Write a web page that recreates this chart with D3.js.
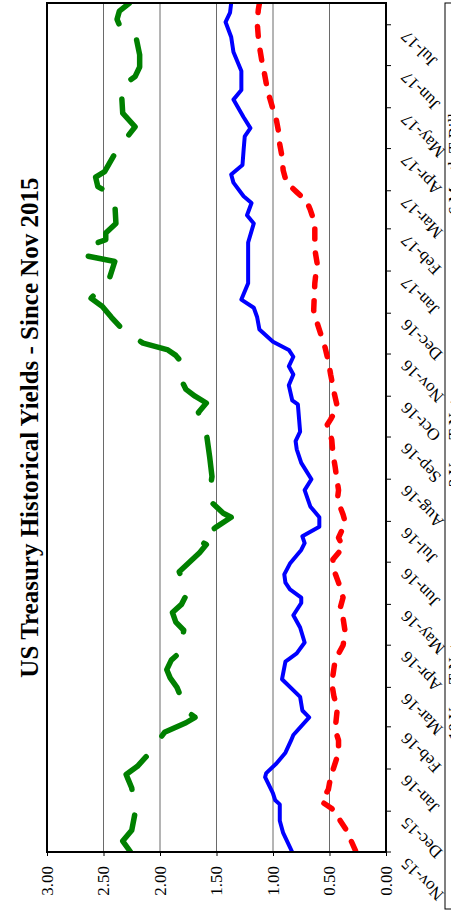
<!DOCTYPE html>
<html>
<head>
<meta charset="utf-8">
<script src="https://cdn.jsdelivr.net/npm/d3@7"></script>
<style>
  html, body { margin: 0; padding: 0; background: #fff; overflow: hidden; }
  svg { display: block; }
  text { font-family: "Liberation Serif", "Times New Roman", serif; fill: #000; }
</style>
</head>
<body>
<svg id="chart" width="451" height="911"></svg>
<script>
// Weekly-ish yield readings, percent
const tenYear = [
  ["2015-11-01",2.26],["2015-11-09",2.33],["2015-11-17",2.25],["2015-11-30",2.22],["2015-12-18",2.25],
  ["2015-12-24",2.28],["2015-12-28",2.30],["2016-01-03",2.20],["2016-01-13",2.09],["2016-01-28",1.96],
  ["2016-01-31",1.88],["2016-02-04",1.77],["2016-02-08",1.69],["2016-02-11",1.74],["2016-02-16",1.78],
  ["2016-03-01",1.85],["2016-03-08",1.91],["2016-03-14",1.94],["2016-03-21",1.90],["2016-03-27",1.82],
  ["2016-04-12",1.79],["2016-04-18",1.86],["2016-04-25",1.89],["2016-05-01",1.81],["2016-05-09",1.76],
  ["2016-05-25",1.83],["2016-06-01",1.74],["2016-06-08",1.65],["2016-06-14",1.59],["2016-06-17",1.66],
  ["2016-06-27",1.50],["2016-07-04",1.37],["2016-07-07",1.44],["2016-07-17",1.57],["2016-08-03",1.54],
  ["2016-08-17",1.56],["2016-09-04",1.59],["2016-09-19",1.66],["2016-09-26",1.59],["2016-10-01",1.69],
  ["2016-10-06",1.77],["2016-10-11",1.80],["2016-10-28",1.83],["2016-10-31",1.86],["2016-11-04",1.93],
  ["2016-11-09",2.15],["2016-11-19",2.33],["2016-11-28",2.43],["2016-12-06",2.51],["2016-12-12",2.61],
  ["2016-12-26",2.45],["2017-01-08",2.40],["2017-01-12",2.64],["2017-01-18",2.68],["2017-01-24",2.48],
  ["2017-01-29",2.48],["2017-02-05",2.39],["2017-02-20",2.40],["2017-02-28",2.46],["2017-03-04",2.55],
  ["2017-03-11",2.57],["2017-03-15",2.49],["2017-03-31",2.38],["2017-04-17",2.22],["2017-04-27",2.33],
  ["2017-05-11",2.34],["2017-05-16",2.25],["2017-05-21",2.27],["2017-05-24",2.22],["2017-05-31",2.18],
  ["2017-06-09",2.18],["2017-06-25",2.22],["2017-07-01",2.36],["2017-07-05",2.38],["2017-07-11",2.36],
  ["2017-07-17",2.27]
];

const twoYear = [
  ["2015-11-01",0.83],["2015-11-15",0.91],["2015-11-24",0.94],["2015-12-06",0.94],["2015-12-09",0.98],
  ["2015-12-14",1.00],["2015-12-26",1.07],["2015-12-29",1.06],["2016-01-05",0.97],["2016-01-13",0.89],
  ["2016-01-22",0.84],["2016-01-26",0.82],["2016-02-08",0.68],["2016-02-13",0.74],["2016-02-23",0.76],
  ["2016-03-07",0.92],["2016-03-20",0.89],["2016-03-26",0.79],["2016-04-03",0.72],["2016-04-14",0.76],
  ["2016-04-23",0.82],["2016-05-02",0.75],["2016-05-06",0.75],["2016-05-12",0.85],["2016-05-17",0.89],
  ["2016-05-23",0.90],["2016-05-31",0.85],["2016-06-10",0.75],["2016-06-15",0.72],["2016-06-20",0.74],
  ["2016-06-27",0.59],["2016-07-04",0.59],["2016-07-12",0.67],["2016-07-24",0.72],["2016-08-01",0.66],
  ["2016-08-13",0.75],["2016-08-23",0.79],["2016-08-29",0.80],["2016-09-05",0.76],["2016-09-25",0.78],
  ["2016-09-28",0.83],["2016-10-09",0.86],["2016-10-17",0.82],["2016-10-23",0.86],["2016-10-30",0.82],
  ["2016-11-04",0.86],["2016-11-10",1.00],["2016-11-19",1.12],["2016-11-28",1.14],["2016-12-05",1.17],
  ["2016-12-11",1.28],["2016-12-23",1.22],["2017-01-04",1.22],["2017-01-22",1.22],["2017-02-05",1.17],
  ["2017-02-11",1.23],["2017-02-20",1.19],["2017-02-25",1.26],["2017-03-07",1.35],["2017-03-13",1.37],
  ["2017-03-20",1.27],["2017-03-31",1.26],["2017-04-10",1.25],["2017-04-16",1.20],["2017-04-24",1.26],
  ["2017-05-07",1.35],["2017-05-14",1.28],["2017-05-28",1.28],["2017-06-11",1.35],["2017-06-22",1.37],
  ["2017-07-03",1.42],["2017-07-10",1.38],["2017-07-17",1.37]
];

const sixMonth = [
  ["2015-11-02",0.27],["2015-11-17",0.35],["2015-11-26",0.42],["2015-12-03",0.48],["2015-12-08",0.57],
  ["2015-12-17",0.51],["2015-12-26",0.49],["2016-01-13",0.42],["2016-01-22",0.42],["2016-01-30",0.45],
  ["2016-02-15",0.43],["2016-02-23",0.46],["2016-03-04",0.48],["2016-03-21",0.45],["2016-04-01",0.38],
  ["2016-04-10",0.36],["2016-04-21",0.38],["2016-04-27",0.41],["2016-05-06",0.38],["2016-05-17",0.42],
  ["2016-05-26",0.46],["2016-06-03",0.47],["2016-06-12",0.38],["2016-06-19",0.42],["2016-06-30",0.36],
  ["2016-07-06",0.38],["2016-07-17",0.43],["2016-07-24",0.42],["2016-08-10",0.45],["2016-08-20",0.47],
  ["2016-08-30",0.48],["2016-09-10",0.52],["2016-09-14",0.49],["2016-09-23",0.43],["2016-10-04",0.46],
  ["2016-10-17",0.49],["2016-10-22",0.50],["2016-10-30",0.52],["2016-11-06",0.54],["2016-11-24",0.61],
  ["2016-12-03",0.64],["2016-12-23",0.63],["2017-01-07",0.61],["2017-01-17",0.63],["2017-02-05",0.63],
  ["2017-02-15",0.67],["2017-02-21",0.70],["2017-02-28",0.79],["2017-03-07",0.88],["2017-03-16",0.91],
  ["2017-03-26",0.92],["2017-04-04",0.94],["2017-04-13",0.95],["2017-04-22",0.97],["2017-04-30",1.00],
  ["2017-05-14",1.05],["2017-05-19",1.06],["2017-05-28",1.08],["2017-06-05",1.10],["2017-06-15",1.12],
  ["2017-06-22",1.13],["2017-07-03",1.14],["2017-07-12",1.13],["2017-07-17",1.12]
];

const seriesNames = ["10 Year T-Note", "2 Year T-Note", "6 Month T-Bill"];
const seriesColors = ["#008000", "#0000ff", "#ff0000"];
const yieldTicks = [0, 0.5, 1, 1.5, 2, 2.5, 3];
const dateStart = "2015-11-01";
const dateEnd = "2017-07-17";
const titleText = "US Treasury Historical Yields - Since Nov 2015";

// ---- layout (chart is laid out landscape, then turned a quarter counter-clockwise)
const W = 911, H = 451;
const plot = { left: 59, right: 908, top: 47, bottom: 386 };

const parse = d3.timeParse("%Y-%m-%d");
const fmt = d3.timeFormat("%b-%y");

const x = d3.scaleTime()
  .domain([parse(dateStart), parse(dateEnd)])
  .range([plot.left, plot.right]);
const y = d3.scaleLinear().domain([0, 3]).range([plot.bottom, plot.top]);

const svg = d3.select("#chart");
const g = svg.append("g").attr("transform", `translate(0,${W}) rotate(-90)`);

// gridlines
g.append("g").selectAll("line").data(yieldTicks.filter(v => v > 0 && v < 3)).join("line")
  .attr("x1", plot.left).attr("x2", plot.right)
  .attr("y1", d => y(d)).attr("y2", d => y(d))
  .attr("stroke", "#6a6a6a").attr("stroke-width", 1);

// series
const line = d3.line().x(d => x(parse(d[0]))).y(d => y(d[1])).curve(d3.curveLinear);
const styles = [
  { data: tenYear,  width: 5.5, dash: "43 26" },
  { data: twoYear,  width: 4,   dash: null },
  { data: sixMonth, width: 5.5, dash: "10 14" }
];
g.append("clipPath").attr("id", "plotclip").append("rect")
  .attr("x", plot.left).attr("y", plot.top)
  .attr("width", plot.right - plot.left).attr("height", plot.bottom - plot.top);

const lines = g.append("g").attr("clip-path", "url(#plotclip)");
styles.forEach((s, i) => {
  lines.append("path")
    .datum(s.data)
    .attr("d", line)
    .attr("fill", "none")
    .attr("stroke", seriesColors[i])
    .attr("stroke-width", s.width)
    .attr("stroke-linecap", "round")
    .attr("stroke-linejoin", "round")
    .attr("stroke-dasharray", s.dash);
});

// plot frame
g.append("rect")
  .attr("x", plot.left).attr("y", plot.top)
  .attr("width", plot.right - plot.left).attr("height", plot.bottom - plot.top)
  .attr("fill", "none").attr("stroke", "#000").attr("stroke-width", 2);

// value axis (left)
const yAxis = d3.axisLeft(y).tickValues(yieldTicks).tickFormat(d3.format(".2f"))
  .tickSize(4).tickPadding(10);
const ya = g.append("g").attr("transform", `translate(${plot.left},0)`).call(yAxis);
ya.select(".domain").remove();
ya.selectAll(".tick line").attr("stroke", "#000");
ya.selectAll(".tick text")
  .attr("font-family", "Liberation Serif, Times New Roman, serif")
  .attr("font-size", 17).attr("fill", "#000");

// date axis (bottom)
const months = d3.timeMonth.range(parse(dateStart), parse(dateEnd));
const xa = g.append("g");
xa.selectAll("line").data(months).join("line")
  .attr("x1", d => x(d)).attr("x2", d => x(d))
  .attr("y1", plot.bottom).attr("y2", plot.bottom + 5)
  .attr("stroke", "#000");
xa.selectAll("text").data(months).join("text")
  .attr("transform", d => `translate(${x(d) - 5},${plot.bottom + 22}) rotate(-45)`)
  .attr("text-anchor", "end")
  .attr("font-size", 17)
  .text(d => fmt(d));

// title
g.append("text")
  .attr("x", (plot.left + plot.right) / 2).attr("y", 38)
  .attr("text-anchor", "middle")
  .attr("font-size", 25).attr("font-weight", "bold")
  .text(titleText);

// legend along the lower edge
const legend = g.append("g");
legend.append("rect").attr("x", 2).attr("y", 445).attr("width", 906).attr("height", 30)
  .attr("fill", "#fff").attr("stroke", "#000").attr("stroke-width", 1);
const legendX = [125, 378, 650];
seriesNames.forEach((name, i) => {
  const item = legend.append("g").attr("transform", `translate(${legendX[i]},0)`);
  item.append("line").attr("x1", 0).attr("x2", 40).attr("y1", 455).attr("y2", 455)
    .attr("stroke", seriesColors[i]).attr("stroke-width", 4)
    .attr("stroke-dasharray", styles[i].dash);
  item.append("text").attr("x", 46).attr("y", 460).attr("font-size", 17).text(name);
});
</script>
</body>
</html>
